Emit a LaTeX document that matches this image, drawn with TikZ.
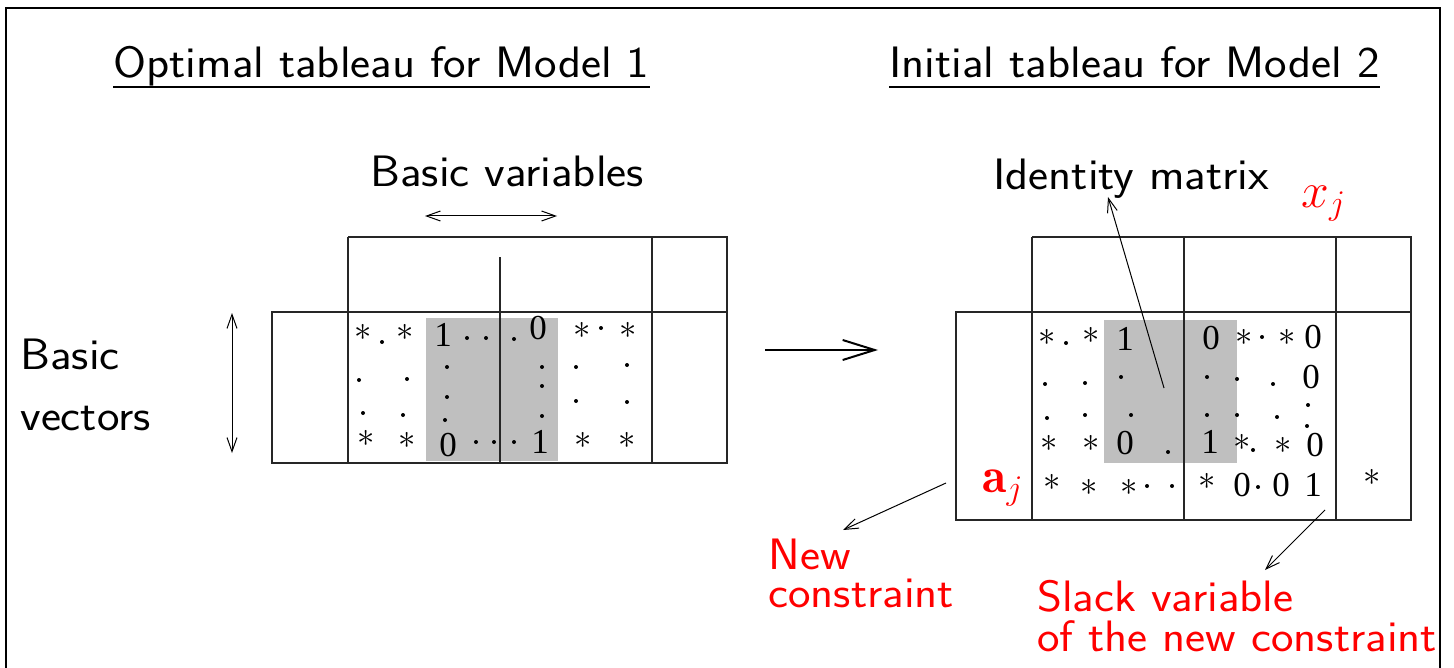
\documentclass[tikz,border=0pt]{standalone}
\usepackage{fontspec}
\usepackage{graphicx}
\newfontfamily\digitfont{Liberation Serif}
\newcommand{\widetext}[1]{\scalebox{1.085}[1]{#1}}
\usetikzlibrary{arrows.meta}
\begin{document}
\begin{tikzpicture}[x=0.5pt,y=-0.5pt,
  lbl/.style={inner sep=0pt,anchor=base west,font=\fontsize{22}{26}\sffamily},
  rlbl/.style={lbl,text=red},
  gridline/.style={line width=0.75pt,draw=black!85},
  shadebox/.style={fill=black!25},
  starnode/.style={inner sep=0pt,font=\fontsize{19}{19}\selectfont},
  dignode/.style={inner sep=0pt,font=\fontsize{17.5}{17.5}\digitfont},
  thinarrow/.style={line width=0.5pt,-{Straight Barb[length=7pt,width=5pt]}},
  dblarrow/.style={line width=0.5pt,{Straight Barb[length=7pt,width=5pt]}-{Straight Barb[length=7pt,width=5pt]}},
  bigarrow/.style={line width=1pt,-{Straight Barb[length=16pt,width=10pt]}}
]
\useasboundingbox (0,0) rectangle (1454,668);
% frame
\draw[line width=1pt] (6,668) -- (6,8) -- (1440,8) -- (1440,668);

% titles
\node[lbl] (tl) at (113,78) {\widetext{Optimal tableau for Model 1}};
\node[lbl] (tr) at (889,78) {\widetext{Initial tableau for Model 2}};
\draw[line width=1pt] ([yshift=-4.5pt]tl.base west) -- ([yshift=-4.5pt]tl.base east);
\draw[line width=1pt] ([yshift=-4.5pt]tr.base west) -- ([yshift=-4.5pt]tr.base east);

% left labels
\node[lbl] (bv) at (370,187) {\widetext{Basic variables}};
\node[lbl] (bvec1) at (20,369) {\widetext{Basic}};
\node[lbl] (bvec2) at (20,430) {\widetext{vectors}};
\coordinate (bvL) at (425,216);
\coordinate (bvR) at (557,216);
\draw[dblarrow] (bvL) -- (bvR);
\coordinate (vT) at (232,313);
\coordinate (vB) at (232,453);
\draw[dblarrow] (vT) -- (vB);

% left tableau
\fill[shadebox] (426,318) rectangle (558,461);
\draw[gridline] (348,237) -- (727,237) -- (727,463) -- (272,463) -- (272,312) -- (727,312);
\draw[gridline] (348,237) -- (348,463);
\draw[gridline] (500,257) -- (500,463);
\draw[gridline] (652,237) -- (652,463);
\foreach \x/\y in {363/332,405/332,582/330,628/330,366/438,407/440,583/440,627/440}
  \node[starnode] (sl\x-\y) at (\x,\y) {$\ast$};
\foreach \x/\y/\d in {443/335/1,538/328/0,448/445/0,540/442/1}
  \node[dignode] (dl\x-\y) at (\x,\y) {\d};
\foreach \p in {(382,342),(467,338),(486,338),(514,339),(601,328),
  (359,380),(407,379),(447,367),(447,397),(445,420),(363,413),(403,415),
  (542,367),(542,386),(542,416),(576,367),(627,365),(576,401),(627,402),
  (476,442),(494,442),(514,442)}
  \fill \p circle[radius=1pt];

% middle arrow
\coordinate (mA) at (765,350);
\coordinate (mB) at (878,350);
\draw[bigarrow] (mA) -- (mB);

% right tableau
\fill[shadebox] (1104,320) rectangle (1237,463);
\draw[gridline] (1032,237) -- (1411,237) -- (1411,520) -- (956,520) -- (956,312) -- (1411,312);
\draw[gridline] (1032,237) -- (1032,520);
\draw[gridline] (1184,237) -- (1184,520);
\draw[gridline] (1336,237) -- (1336,520);
\foreach \x/\y in {1047/337,1091/335,1244/337,1287/337,1049/443,1091/443,1242/442,1283/445,
  1052/482,1089/487,1129/487,1207/481,1372/477}
  \node[starnode] (sr\x-\y) at (\x,\y) {$\ast$};
\foreach \x/\y/\d in {1125/339/1,1211/338/0,1313/337/0,1311/377/0,1125/443/0,1210/442/1,
  1315/445/0,1242/485/0,1281/485/0,1313/485/1}
  \node[dignode] (dr\x-\y) at (\x,\y) {\d};
\foreach \p in {(1066,343),(1262,337),(1045,384),(1085,383),(1121,377),(1207,377),(1237,379),
  (1273,384),(1047,418),(1085,415),(1131,415),(1207,415),(1237,415),(1277,417),(1308,405),
  (1307,426),(1168,452),(1253,450),(1147,486),(1172,486),(1258,487)}
  \fill \p circle[radius=1pt];

% right labels
\node[lbl] (idm) at (993,190) {\widetext{Identity matrix}};
\node[inner sep=0pt,anchor=base west,text=red,font=\fontsize{24}{24}\selectfont] (xj) at (1301,207) {$x_j$};
\node[inner sep=0pt,anchor=base west,text=red,font=\fontsize{25}{25}\selectfont] (aj) at (982,492) {$\mathbf{a}_j$};
\coordinate (idS) at (1164,388);
\coordinate (idE) at (1108,197);
\draw[thinarrow] (idS) -- (idE);

\node[rlbl,align=left] (nc) at (768,607) {\widetext{New}\\[-7pt]\widetext{constraint}};
\coordinate (ncS) at (946,483);
\coordinate (ncE) at (843,530);
\draw[thinarrow] (ncS) -- (ncE);

\node[rlbl,align=left] (sv) at (1037,651) {\widetext{Slack variable}\\[-6pt]\widetext{of the new constraint}};
\coordinate (svS) at (1325,510);
\coordinate (svE) at (1265,570);
\draw[thinarrow] (svS) -- (svE);
\end{tikzpicture}
\end{document}
